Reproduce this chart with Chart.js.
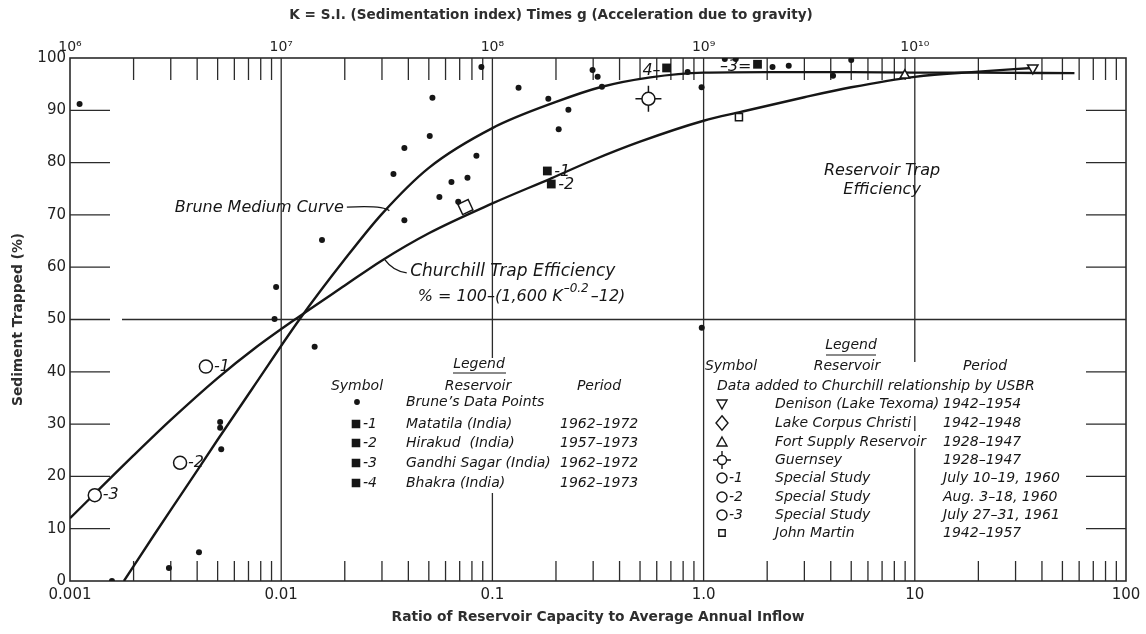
<!DOCTYPE html>
<html>
<head>
<meta charset="utf-8">
<script src="https://cdn.jsdelivr.net/npm/chart.js@4/dist/chart.umd.min.js"></script>
<style>
  html, body { margin: 0; padding: 0; background: #fff; }
  canvas { display: block; }
</style>
</head>
<body>
<canvas id="trapChart" width="1146" height="634"></canvas>
<script>
// axis ticks
var ratioTicks = [0.001, 0.01, 0.1, 1, 10, 100];
var ratioTickLabels = ['0.001', '0.01', '0.1', '1.0', '10', '100'];
var kTicks = [1e6, 1e7, 1e8, 1e9, 1e10];
var kTickLabels = ['10⁶', '10⁷', '10⁸', '10⁹', '10¹⁰'];

// Brune medium curve
var bruneRatio = [0.0018, 0.0025, 0.0035, 0.005, 0.0075, 0.0122, 0.02, 0.03, 0.05, 0.1, 0.2, 0.33, 0.56, 1, 2, 5, 10, 20, 57];
var brunePct   = [0, 8.8, 17.6, 27, 37.5, 50, 61.5, 70.2, 79, 86.6, 91.6, 94.5, 96.3, 97.2, 97.3, 97.3, 97.2, 97.2, 97.1];

// Churchill trap efficiency curve
var churchillRatio = [0.001, 0.002, 0.003, 0.005, 0.0075, 0.012, 0.02, 0.03, 0.05, 0.1, 0.19, 0.3, 0.5, 1, 1.5, 3, 5, 10, 20, 36];
var churchillPct   = [12, 24, 30.8, 38.8, 44.5, 50.4, 56.5, 61.3, 66.5, 72.2, 77, 80.5, 84, 88, 89.7, 92.5, 94.4, 96.4, 97.4, 98.1];

// Brune's data points
var bruneDataRatio = [0.00111, 0.00158, 0.00294, 0.00408, 0.00514, 0.00514, 0.0052, 0.00946, 0.0093, 0.0144,
                      0.0156, 0.0383, 0.034, 0.0383, 0.052, 0.0505, 0.0561, 0.064, 0.0762, 0.084,
                      0.0689, 0.0887, 0.133, 0.184, 0.229, 0.206, 0.298, 0.315, 0.33, 0.84,
                      0.978, 0.98, 1.26, 1.42, 2.12, 2.53, 4.1, 5.0];
var bruneDataPct   = [91.2, 0, 2.5, 5.5, 30.4, 29.3, 25.2, 56.2, 50.1, 44.8,
                      65.2, 82.8, 77.8, 69.0, 92.4, 85.1, 73.4, 76.3, 77.1, 81.3,
                      72.5, 98.3, 94.3, 92.2, 90.1, 86.4, 97.7, 96.4, 94.5, 97.3,
                      94.4, 48.4, 99.8, 99.8, 98.3, 98.5, 96.6, 99.6];

// Indian reservoirs (Matatila, Hirakud, Gandhi Sagar, Bhakra)
var indiaRatio  = [0.182, 0.19, 1.80, 0.668];
var indiaPct    = [78.4, 75.9, 98.8, 98.1];
var indiaLabels = ['-1', '-2', '–3=', '4–'];

// USBR reservoirs
var denisonRatio = [36.2],  denisonPct = [98.1];
var corpusRatio  = [0.0745], corpusPct = [71.5];
var fortRatio    = [8.97],  fortPct = [96.7];
var guernseyRatio = [0.548], guernseyPct = [92.2];
var johnMartinRatio = [1.47], johnMartinPct = [88.7];

// special studies
var studyRatio  = [0.0044, 0.00332, 0.00131];
var studyPct    = [41, 22.6, 16.4];
var studyLabels = ['-1', '-2', '-3'];

var ink = '#161616';
var italic = function (size) { return 'italic ' + size + 'px "DejaVu Sans"'; };

function pts(xs, ys) {
  return xs.map(function (x, i) { return { x: x, y: ys[i] }; });
}

function marker(label, xs, ys, style, radius, filled, extra) {
  var ds = {
    label: label,
    data: pts(xs, ys),
    pointStyle: style,
    pointRadius: radius,
    pointHoverRadius: radius,
    pointBackgroundColor: filled ? ink : '#fff',
    pointBorderColor: ink,
    pointBorderWidth: filled ? 0 : 1.5,
    showLine: false,
    order: 0
  };
  for (var k in extra) ds[k] = extra[k];
  return ds;
}

function curve(label, xs, ys) {
  return {
    label: label,
    data: pts(xs, ys),
    showLine: true,
    borderColor: ink,
    borderWidth: 2.4,
    pointRadius: 0,
    cubicInterpolationMode: 'monotone',
    fill: false,
    order: 10
  };
}

// small legend glyphs
function glyph(ctx, style, x, y, r, filled) {
  ctx.save();
  ctx.lineWidth = 1.4;
  ctx.strokeStyle = ink;
  ctx.fillStyle = filled ? ink : '#fff';
  if (style === 'crosshair') {
    ctx.beginPath();
    ctx.moveTo(x - 2 * r, y); ctx.lineTo(x + 2 * r, y);
    ctx.moveTo(x, y - 2 * r); ctx.lineTo(x, y + 2 * r);
    ctx.stroke();
    style = 'circle';
  }
  ctx.beginPath();
  if (style === 'circle') {
    ctx.arc(x, y, r, 0, Math.PI * 2);
  } else if (style === 'rect') {
    ctx.rect(x - r, y - r, 2 * r, 2 * r);
  } else if (style === 'triangle') {
    ctx.moveTo(x, y - r); ctx.lineTo(x + r, y + r * 0.8); ctx.lineTo(x - r, y + r * 0.8); ctx.closePath();
  } else if (style === 'triangleDown') {
    ctx.moveTo(x, y + r); ctx.lineTo(x + r, y - r * 0.8); ctx.lineTo(x - r, y - r * 0.8); ctx.closePath();
  } else if (style === 'diamond') {
    ctx.moveTo(x, y - r * 1.2); ctx.lineTo(x + r, y); ctx.lineTo(x, y + r * 1.2); ctx.lineTo(x - r, y); ctx.closePath();
  }
  ctx.fill();
  ctx.stroke();
  ctx.restore();
}

function text(ctx, str, x, y, font, align) {
  ctx.font = font;
  ctx.textAlign = align || 'left';
  ctx.textBaseline = 'middle';
  ctx.fillText(str, x, y);
}

var framePlugin = {
  id: 'frame',
  beforeDatasetsDraw: function (chart) {
    var ctx = chart.ctx, a = chart.chartArea;
    var sx = chart.scales.x, sk = chart.scales.xTop, sy = chart.scales.y;
    ctx.save();
    ctx.strokeStyle = '#2b2b2b';
    ctx.lineWidth = 1.3;

    // decade lines, with gaps behind the legend tables
    var gaps = { 0.1: [[358, 493]], 10: [[362, 416], [431, 448]] };
    [0.01, 0.1, 1, 10].forEach(function (v) {
      var x = sx.getPixelForValue(v);
      var segs = [[a.top, a.bottom]];
      (gaps[v] || []).forEach(function (g) {
        var last = segs.pop();
        segs.push([last[0], g[0]], [g[1], last[1]]);
      });
      segs.forEach(function (s) {
        ctx.beginPath(); ctx.moveTo(x, s[0]); ctx.lineTo(x, s[1]); ctx.stroke();
      });
    });

    // minor ticks, bottom and top
    for (var d = 0; d < 5; d++) {
      for (var m = 2; m <= 9; m++) {
        var xb = sx.getPixelForValue(m * ratioTicks[d]);
        ctx.beginPath(); ctx.moveTo(xb, a.bottom); ctx.lineTo(xb, a.bottom - 20); ctx.stroke();
        var xt = sk.getPixelForValue(m * kTicks[d]);
        ctx.beginPath(); ctx.moveTo(xt, a.top); ctx.lineTo(xt, a.top + 22); ctx.stroke();
      }
    }

    // percent ticks on both sides, full line at 50
    for (var p = 10; p <= 90; p += 10) {
      var y = sy.getPixelForValue(p);
      ctx.beginPath();
      if (p === 50) {
        ctx.moveTo(a.left, y); ctx.lineTo(a.left + 40, y);
        ctx.moveTo(a.left + 52, y); ctx.lineTo(a.right, y);
      } else {
        ctx.moveTo(a.left, y); ctx.lineTo(a.left + 40, y);
        ctx.moveTo(a.right - 40, y); ctx.lineTo(a.right, y);
      }
      ctx.stroke();
    }

    ctx.lineWidth = 1.6;
    ctx.strokeRect(a.left, a.top, a.right - a.left, a.bottom - a.top);
    ctx.restore();
  },

  afterDatasetsDraw: function (chart) {
    var ctx = chart.ctx;
    var sx = chart.scales.x, sy = chart.scales.y;
    var px = function (r) { return sx.getPixelForValue(r); };
    var py = function (p) { return sy.getPixelForValue(p); };
    ctx.save();

    // top title
    ctx.fillStyle = '#2e2e2e';
    text(ctx, 'K = S.I. (Sedimentation index) Times g (Acceleration due to gravity)', 551, 15, 'bold 13.6px "DejaVu Sans"', 'center');
    ctx.fillStyle = ink;
    ctx.strokeStyle = ink;

    // point tags
    indiaLabels.forEach(function (t, i) {
      var x = px(indiaRatio[i]), y = py(indiaPct[i]);
      if (t === '4–' || t === '–3=') text(ctx, t, x - 6, y + 3, italic(16), 'right');
      else text(ctx, t, x + 7, y + 1, italic(16), 'left');
    });
    studyLabels.forEach(function (t, i) {
      text(ctx, t, px(studyRatio[i]) + 8, py(studyPct[i]), italic(16), 'left');
    });

    // curve notes
    ctx.lineWidth = 1.3;
    var bx = px(0.0198), by = py(71.3);
    text(ctx, 'Brune Medium Curve', bx, by, italic(16), 'right');
    var ex = px(0.0325), ey = py(70.8);
    ctx.beginPath(); ctx.moveTo(bx + 3, by - 1); ctx.quadraticCurveTo(ex - 6, by - 3, ex, ey); ctx.stroke();

    var cx0 = px(0.031), cy0 = py(61.4), cx1 = px(0.0393), cy1 = py(58.9);
    ctx.beginPath(); ctx.moveTo(cx0, cy0); ctx.quadraticCurveTo(cx0 + 8, cy1 - 2, cx1, cy1); ctx.stroke();
    text(ctx, 'Churchill Trap Efficiency', px(0.0408), py(59.1), italic(17), 'left');

    var fx = px(0.0443), fy = py(54.3);
    var head = '% = 100–(1,600 K';
    text(ctx, head, fx, fy, italic(16), 'left');
    var hw = ctx.measureText(head).width;
    text(ctx, '–0.2', fx + hw + 1, fy - 8, italic(12), 'left');
    var sw = ctx.measureText('–0.2').width;
    text(ctx, '–12)', fx + hw + sw + 3, fy, italic(16), 'left');

    text(ctx, 'Reservoir Trap', px(7.0), py(78.4), italic(16), 'center');
    text(ctx, 'Efficiency', px(7.0), py(74.8), italic(16), 'center');

    // left legend table
    var f = italic(14);
    text(ctx, 'Legend', 479, 364, f, 'center');
    ctx.lineWidth = 1.2;
    ctx.beginPath(); ctx.moveTo(453, 373); ctx.lineTo(506, 373); ctx.stroke();
    text(ctx, 'Symbol', 357, 386, f, 'center');
    text(ctx, 'Reservoir', 478, 386, f, 'center');
    text(ctx, 'Period', 599, 386, f, 'center');
    glyph(ctx, 'circle', 357, 402, 2.2, true);
    text(ctx, 'Brune’s Data Points', 406, 402, f, 'left');
    var leftRows = [
      ['-1', 'Matatila (India)', '1962–1972'],
      ['-2', 'Hirakud  (India)', '1957–1973'],
      ['-3', 'Gandhi Sagar (India)', '1962–1972'],
      ['-4', 'Bhakra (India)', '1962–1973']
    ];
    [424, 443, 463, 483].forEach(function (y, i) {
      glyph(ctx, 'rect', 356, y, 3.6, true);
      text(ctx, leftRows[i][0], 363, y, f, 'left');
      text(ctx, leftRows[i][1], 406, y, f, 'left');
      text(ctx, leftRows[i][2], 560, y, f, 'left');
    });

    // right legend table
    text(ctx, 'Legend', 851, 345, f, 'center');
    ctx.beginPath(); ctx.moveTo(826, 355); ctx.lineTo(876, 355); ctx.stroke();
    text(ctx, 'Symbol', 731, 366, f, 'center');
    text(ctx, 'Reservoir', 847, 366, f, 'center');
    text(ctx, 'Period', 985, 366, f, 'center');
    text(ctx, 'Data added to Churchill relationship by USBR', 717, 386, f, 'left');
    var rightRows = [
      ['triangleDown', 5, '', 'Denison (Lake Texoma)', '1942–1954'],
      ['diamond', 6, '', 'Lake Corpus Christi', '1942–1948'],
      ['triangle', 5, '', 'Fort Supply Reservoir', '1928–1947'],
      ['crosshair', 4.5, '', 'Guernsey', '1928–1947'],
      ['circle', 5, '-1', 'Special Study', 'July 10–19, 1960'],
      ['circle', 5, '-2', 'Special Study', 'Aug. 3–18, 1960'],
      ['circle', 5, '-3', 'Special Study', 'July 27–31, 1961'],
      ['rect', 3.2, '', 'John Martin', '1942–1957']
    ];
    [404, 423, 442, 460, 478, 497, 515, 533].forEach(function (y, i) {
      var r = rightRows[i];
      glyph(ctx, r[0], 722, y, r[1], false);
      if (r[2]) text(ctx, r[2], 729, y, f, 'left');
      text(ctx, r[3], 775, y, f, 'left');
      text(ctx, r[4], 943, y, f, 'left');
    });

    ctx.restore();
  }
};

var tickFont = { family: 'DejaVu Sans', size: 15 };
var titleFont = { family: 'DejaVu Sans', size: 13.8, weight: 'bold' };

new Chart(document.getElementById('trapChart'), {
  type: 'scatter',
  data: {
    datasets: [
      marker('Brune data points', bruneDataRatio, bruneDataPct, 'circle', 3, true),
      marker('Indian reservoirs', indiaRatio, indiaPct, 'rect', 6.2, true),
      marker('Denison (Lake Texoma)', denisonRatio, denisonPct, 'triangle', 6, false, { rotation: 180 }),
      marker('Lake Corpus Christi', corpusRatio, corpusPct, 'rectRot', 8, false, { rotation: 20 }),
      marker('Fort Supply Reservoir', fortRatio, fortPct, 'triangle', 5.5, false),
      marker('Guernsey', guernseyRatio, guernseyPct, 'circle', 6.5, false),
      marker('Guernsey arms', guernseyRatio, guernseyPct, 'cross', 13, false, { order: 1 }),
      marker('Special Study', studyRatio, studyPct, 'circle', 6.5, false),
      marker('John Martin', johnMartinRatio, johnMartinPct, 'rect', 5, false),
      curve('Brune Medium Curve', bruneRatio, brunePct),
      curve('Churchill Trap Efficiency', churchillRatio, churchillPct)
    ]
  },
  options: {
    responsive: false,
    animation: false,
    layout: { padding: { left: 0, right: 20, top: 0, bottom: 0 } },
    plugins: { legend: { display: false }, tooltip: { enabled: false } },
    scales: {
      x: {
        type: 'logarithmic',
        position: 'bottom',
        min: 0.001,
        max: 100,
        grid: { display: false, drawTicks: false },
        border: { display: false },
        afterBuildTicks: function (s) { s.ticks = ratioTicks.map(function (v) { return { value: v }; }); },
        afterFit: function (s) { s.height = 53; },
        ticks: {
          autoSkip: false, maxRotation: 0, padding: 5, color: '#222', font: tickFont,
          callback: function (v, i) { return ratioTickLabels[i]; }
        },
        title: {
          display: true,
          text: 'Ratio of Reservoir Capacity to Average Annual Inflow',
          color: '#2e2e2e',
          font: titleFont,
          padding: { top: 0, bottom: 8 }
        }
      },
      xTop: {
        type: 'logarithmic',
        position: 'top',
        min: 1e6,
        max: 1e11,
        grid: { display: false, drawTicks: false },
        border: { display: false },
        afterBuildTicks: function (s) { s.ticks = kTicks.map(function (v) { return { value: v }; }); },
        afterFit: function (s) { s.height = 58; },
        ticks: {
          autoSkip: false, maxRotation: 0, padding: 2, color: '#222',
          font: { family: 'DejaVu Sans', size: 14 },
          callback: function (v, i) { return kTickLabels[i]; }
        }
      },
      y: {
        type: 'linear',
        min: 0,
        max: 100,
        grid: { display: false, drawTicks: false },
        border: { display: false },
        afterFit: function (s) { s.width = 70; },
        ticks: { stepSize: 10, padding: 4, color: '#222', font: tickFont },
        title: {
          display: true,
          text: 'Sediment Trapped (%)',
          color: '#2e2e2e',
          font: titleFont,
          padding: { top: 10, bottom: 0 }
        }
      }
    }
  },
  plugins: [framePlugin]
});
</script>
</body>
</html>
